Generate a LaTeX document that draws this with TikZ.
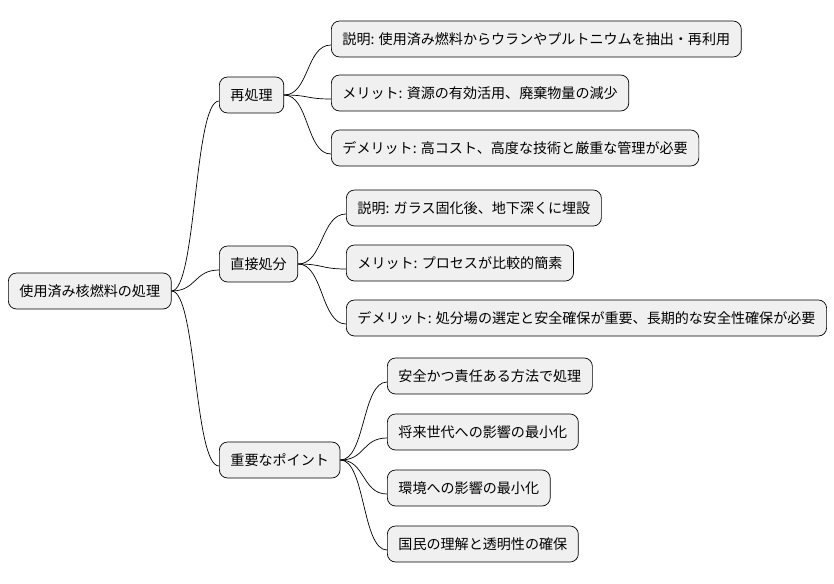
\documentclass[tikz,border=0pt]{standalone}
\usepackage{fontspec}
\setmainfont{Noto Sans CJK JP}
\usetikzlibrary{calc}

\tikzset{
  topic/.style={draw=black,fill=black!6,rounded corners=7pt,line width=0.6pt,
    anchor=west,minimum height=1.08cm,inner xsep=9.5pt,
    font=\fontsize{12}{14}\selectfont},
  branch/.style={line width=0.6pt}
}

\begin{document}
\begin{tikzpicture}[x=0.03cm,y=-0.03cm]
  \useasboundingbox (0,0) rectangle (834,583);
  %ROOT
  \node[topic] (root) at (8,291) {使用済み核燃料の処理};
  %FIRST LEVEL
  \node[topic] (rep) at (219,95) {再処理};
  \node[topic] (dis) at (219,264) {直接処分};
  \node[topic] (key) at (219,460) {重要なポイント};
  %REPROCESSING
  \node[topic] (repA) at (331,39) {説明: 使用済み燃料からウランやプルトニウムを抽出・再利用};
  \node[topic] (repB) at (331,93) {メリット: 資源の有効活用、廃棄物量の減少};
  \node[topic] (repC) at (331,148) {デメリット: 高コスト、高度な技術と厳重な管理が必要};
  %DISPOSAL
  \node[topic] (disA) at (346,208) {説明: ガラス固化後、地下深くに埋設};
  \node[topic] (disB) at (346,263) {メリット: プロセスが比較的簡素};
  \node[topic] (disC) at (346,318) {デメリット: 処分場の選定と安全確保が重要、長期的な安全性確保が必要};
  %KEY POINTS
  \node[topic] (keyA) at (387,376) {安全かつ責任ある方法で処理};
  \node[topic] (keyB) at (387,432) {将来世代への影響の最小化};
  \node[topic] (keyC) at (387,488) {環境への影響の最小化};
  \node[topic] (keyD) at (387,544) {国民の理解と透明性の確保};
  %BRANCHES
  \foreach \p/\c in {root/rep,root/dis,root/key,rep/repA,rep/repB,rep/repC,
      dis/disA,dis/disB,dis/disC,key/keyA,key/keyB,key/keyC,key/keyD}
    \draw[branch] (\p.east) .. controls +(25,0) and +(-25,0) .. ($(\c.west)+(0,6)$);
\end{tikzpicture}
\end{document}
